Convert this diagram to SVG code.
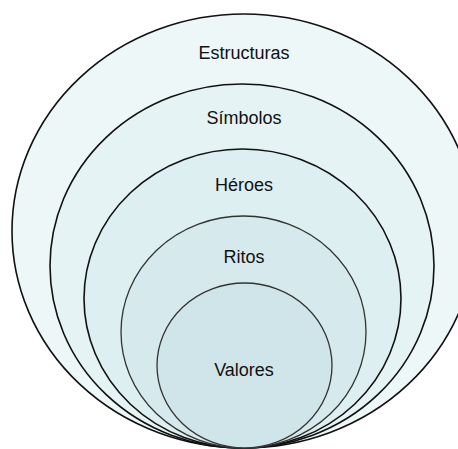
<svg xmlns="http://www.w3.org/2000/svg" width="458" height="449" viewBox="0 0 458 449">
<style>
.ring{stroke:#111;stroke-width:1.6}
.inner{stroke:#333;stroke-width:1.3}
.lbl{font-family:"Liberation Sans",Arial,sans-serif;font-size:18px;fill:#111;text-anchor:middle}
</style>
<rect width="458" height="449" fill="#ffffff"/>
<g id="estructuras">
<ellipse class="ring" cx="244" cy="231" rx="232" ry="217" fill="#edf7f8"/>
<text class="lbl" x="244" y="59">Estructuras</text>
</g>
<g id="simbolos">
<ellipse class="ring" cx="242" cy="266" rx="192" ry="182" fill="#e6f3f5"/>
<text class="lbl" x="244" y="124">Símbolos</text>
</g>
<g id="heroes">
<ellipse class="ring" cx="242.5" cy="298.5" rx="158.5" ry="149.5" fill="#ddeff1"/>
<text class="lbl" x="244" y="191">Héroes</text>
</g>
<g id="ritos">
<ellipse class="inner" cx="243.5" cy="332" rx="122.5" ry="116" fill="#d6eaed"/>
<text class="lbl" x="244" y="263">Ritos</text>
</g>
<g id="valores">
<ellipse class="inner" cx="244.5" cy="365.5" rx="87.5" ry="82.5" fill="#cfe5e9"/>
<text class="lbl" x="244" y="376">Valores</text>
</g>
<g id="connectors"></g>
</svg>
